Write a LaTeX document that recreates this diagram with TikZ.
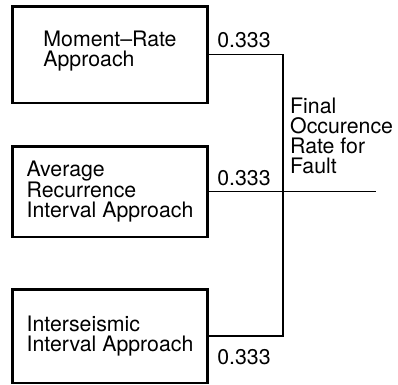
\documentclass[tikz,border=0pt]{standalone}
\usepackage{fontspec}
\setmainfont{TeX Gyre Heros}
\tikzset{
  txt/.style={font=\fontsize{21.3bp}{20bp}\selectfont},
  method/.style={
    draw, rectangle, txt, align=left, inner sep=0pt,
    line width=2.5bp, minimum width=195bp
  },
  weight/.style={txt, inner sep=0pt, anchor=base},
  result/.style={txt, inner sep=0pt, align=left, anchor=north west},
  link/.style={line width=1.3bp},
}
\begin{document}
\begin{tikzpicture}[x=1bp, y=-1bp]
  \useasboundingbox (0,0) rectangle (398,385);
  \node[method, minimum height=96.5bp, text height=28bp] (mr) at (110,54.5) {Moment--Rate\\Approach};
  \node[method, minimum height=90.5bp] (ari) at (110,191.5) {Average\\Recurrence\\Interval Approach};
  \node[method, minimum height=93.5bp] (isi) at (110,336) {Interseismic\\Interval Approach};
  \node[weight] (w1) at (244,47) {0.333};
  \node[weight] (w2) at (244,185) {0.333};
  \node[weight] (w3) at (244,364) {0.333};
  \node[result] (final) at (290,98) {Final\\Occurence\\Rate for\\Fault};
  \coordinate (bus) at (283,0);
  \coordinate (out) at (376,0);
  \draw[link] (mr.east) -| (bus |- isi.east) -- (isi.east);
  \draw[link] (ari.east) -- (out |- ari.east);
\end{tikzpicture}
\end{document}
